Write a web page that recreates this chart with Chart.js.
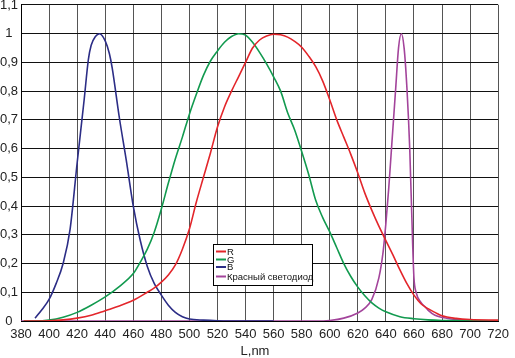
<!DOCTYPE html>
<html>
<head>
<meta charset="utf-8">
<script src="https://cdn.jsdelivr.net/npm/chart.js@4.4.1/dist/chart.umd.min.js"></script>
<style>
  html, body { margin: 0; padding: 0; background: #fff; }
</style>
</head>
<body>
<canvas id="spectrum" width="515" height="358"></canvas>
<script>
  // spectra (wavelength in nm, relative intensity)
  const rWl = [382, 390, 400, 410, 420, 430, 440, 450, 460, 470, 475, 480, 485, 490, 495, 500, 505, 510, 515, 520, 525, 530, 535, 540, 545, 550, 555, 560, 565, 570, 575, 580, 585, 590, 595, 600, 605, 610, 615, 620, 625, 630, 635, 640, 645, 650, 655, 660, 665, 670, 675, 680, 690, 700, 720];
  const rVal = [0, 0, 0.001, 0.004, 0.01, 0.02, 0.036, 0.052, 0.072, 0.1, 0.115, 0.135, 0.16, 0.195, 0.25, 0.32, 0.415, 0.5, 0.585, 0.675, 0.745, 0.8, 0.85, 0.9, 0.95, 0.978, 0.992, 0.998, 0.996, 0.988, 0.973, 0.953, 0.922, 0.885, 0.835, 0.77, 0.7, 0.64, 0.58, 0.515, 0.445, 0.385, 0.33, 0.28, 0.23, 0.178, 0.13, 0.09, 0.06, 0.043, 0.03, 0.018, 0.009, 0.005, 0.003];

  const gWl = [382, 390, 400, 410, 420, 430, 440, 450, 460, 465, 470, 475, 480, 485, 490, 495, 500, 505, 510, 515, 520, 525, 530, 535, 540, 545, 550, 555, 560, 565, 570, 575, 580, 585, 590, 595, 600, 605, 610, 615, 620, 625, 630, 635, 640, 650, 660, 670, 680, 700, 720];
  const gVal = [0, 0, 0.003, 0.013, 0.03, 0.055, 0.084, 0.12, 0.165, 0.205, 0.25, 0.31, 0.39, 0.48, 0.565, 0.64, 0.72, 0.79, 0.855, 0.905, 0.94, 0.97, 0.99, 1.0, 0.995, 0.97, 0.935, 0.895, 0.85, 0.8, 0.725, 0.665, 0.59, 0.51, 0.42, 0.36, 0.31, 0.255, 0.2, 0.155, 0.118, 0.088, 0.063, 0.045, 0.032, 0.015, 0.008, 0.004, 0.002, 0.001, 0];

  const bWl = [390, 395, 400, 405, 410, 415, 420, 425, 428, 430, 433, 436, 440, 443, 445, 450, 455, 460, 465, 470, 475, 480, 485, 490, 495, 500, 510, 520, 540, 560];
  const bVal = [0.01, 0.04, 0.075, 0.13, 0.2, 0.32, 0.55, 0.77, 0.91, 0.96, 0.99, 1.0, 0.975, 0.93, 0.88, 0.71, 0.56, 0.4, 0.28, 0.19, 0.13, 0.09, 0.055, 0.03, 0.015, 0.007, 0.003, 0.001, 0, 0];

  const ledWl = [380, 590, 600, 610, 620, 625, 630, 635, 638, 640, 642, 644, 647, 649, 651, 653, 655, 657, 659, 660, 661.5, 665, 668, 670, 675, 684, 700, 720];
  const ledVal = [0, 0, 0.002, 0.01, 0.028, 0.045, 0.075, 0.15, 0.24, 0.34, 0.46, 0.6, 0.81, 0.95, 1.0, 0.95, 0.81, 0.6, 0.28, 0.15, 0.1, 0.065, 0.049, 0.038, 0.02, 0.009, 0.002, 0];

  const seriesNames = ["R", "G", "B", "Красный светодиод"];
  const yTickLabels = ["0", "0,1", "0,2", "0,3", "0,4", "0,5", "0,6", "0,7", "0,8", "0,9", "1", "1,1"];
  const xTitle = "L,nm";

  function toPoints(xs, ys) {
    return xs.map((x, i) => ({ x: x, y: ys[i] }));
  }

  function makeLine(label, xs, ys, color) {
    return {
      label: label,
      data: toPoints(xs, ys),
      showLine: true,
      borderColor: color,
      backgroundColor: color,
      borderWidth: 1.6,
      pointRadius: 0,
      cubicInterpolationMode: "monotone",
      fill: false,
    };
  }

  const FONT = '"Liberation Sans", Arial, sans-serif';

  // legend box sitting inside the plot, like the original
  const legendBox = {
    id: "legendBox",
    afterDatasetsDraw(chart) {
      const ctx = chart.ctx;
      const rows = [251.5, 259.5, 267, 276.5];
      ctx.save();
      ctx.fillStyle = "#fff";
      ctx.fillRect(213.5, 244.5, 99, 41);
      ctx.strokeStyle = "#000";
      ctx.lineWidth = 1;
      ctx.strokeRect(213.5, 244.5, 99, 41);
      ctx.font = "9.5px " + FONT;
      ctx.textBaseline = "middle";
      ctx.textAlign = "left";
      chart.data.datasets.forEach((ds, i) => {
        const y = rows[i];
        ctx.strokeStyle = ds.borderColor;
        ctx.lineWidth = 2;
        ctx.beginPath();
        ctx.moveTo(216, y);
        ctx.lineTo(226, y);
        ctx.stroke();
        ctx.fillStyle = "#111";
        ctx.fillText(ds.label, 227, y + 0.5);
      });
      ctx.restore();
    },
    afterDraw(chart) {
      const ctx = chart.ctx;
      ctx.save();
      ctx.font = "13px " + FONT;
      ctx.fillStyle = "#222";
      ctx.textAlign = "center";
      ctx.textBaseline = "middle";
      ctx.fillText(xTitle, 255, 351);
      ctx.restore();
    },
  };

  const ctx = document.getElementById("spectrum").getContext("2d");

  new Chart(ctx, {
    type: "scatter",
    data: {
      datasets: [
        makeLine(seriesNames[0], rWl, rVal, "#e3262b"),
        makeLine(seriesNames[1], gWl, gVal, "#129a4f"),
        makeLine(seriesNames[2], bWl, bVal, "#2c2d86"),
        makeLine(seriesNames[3], ledWl, ledVal, "#a3449b"),
      ],
    },
    options: {
      responsive: false,
      animation: false,
      layout: { padding: { left: 0, right: 11, top: 2, bottom: 0 } },
      plugins: {
        legend: { display: false },
        tooltip: { enabled: false },
      },
      scales: {
        x: {
          type: "linear",
          min: 380,
          max: 720,
          afterFit(scale) { scale.height = 37; },
          ticks: {
            stepSize: 20,
            padding: 6,
            color: "#222",
            font: { family: FONT, size: 13 },
            maxRotation: 0,
          },
          grid: { color: "#555", lineWidth: 1, drawTicks: false },
          border: { color: "#000", width: 1 },
        },
        y: {
          min: 0,
          max: 1.1,
          afterFit(scale) { scale.width = 21; },
          ticks: {
            stepSize: 0.1,
            padding: 3,
            crossAlign: "center",
            color: "#222",
            font: { family: FONT, size: 13, lineHeight: 0.3 },
            callback: function (value, index) {
              return yTickLabels[index] !== undefined ? yTickLabels[index] : value;
            },
          },
          grid: { color: "#111", lineWidth: 1, drawTicks: false },
          border: { color: "#000", width: 1 },
        },
      },
    },
    plugins: [legendBox],
  });
</script>
</body>
</html>
